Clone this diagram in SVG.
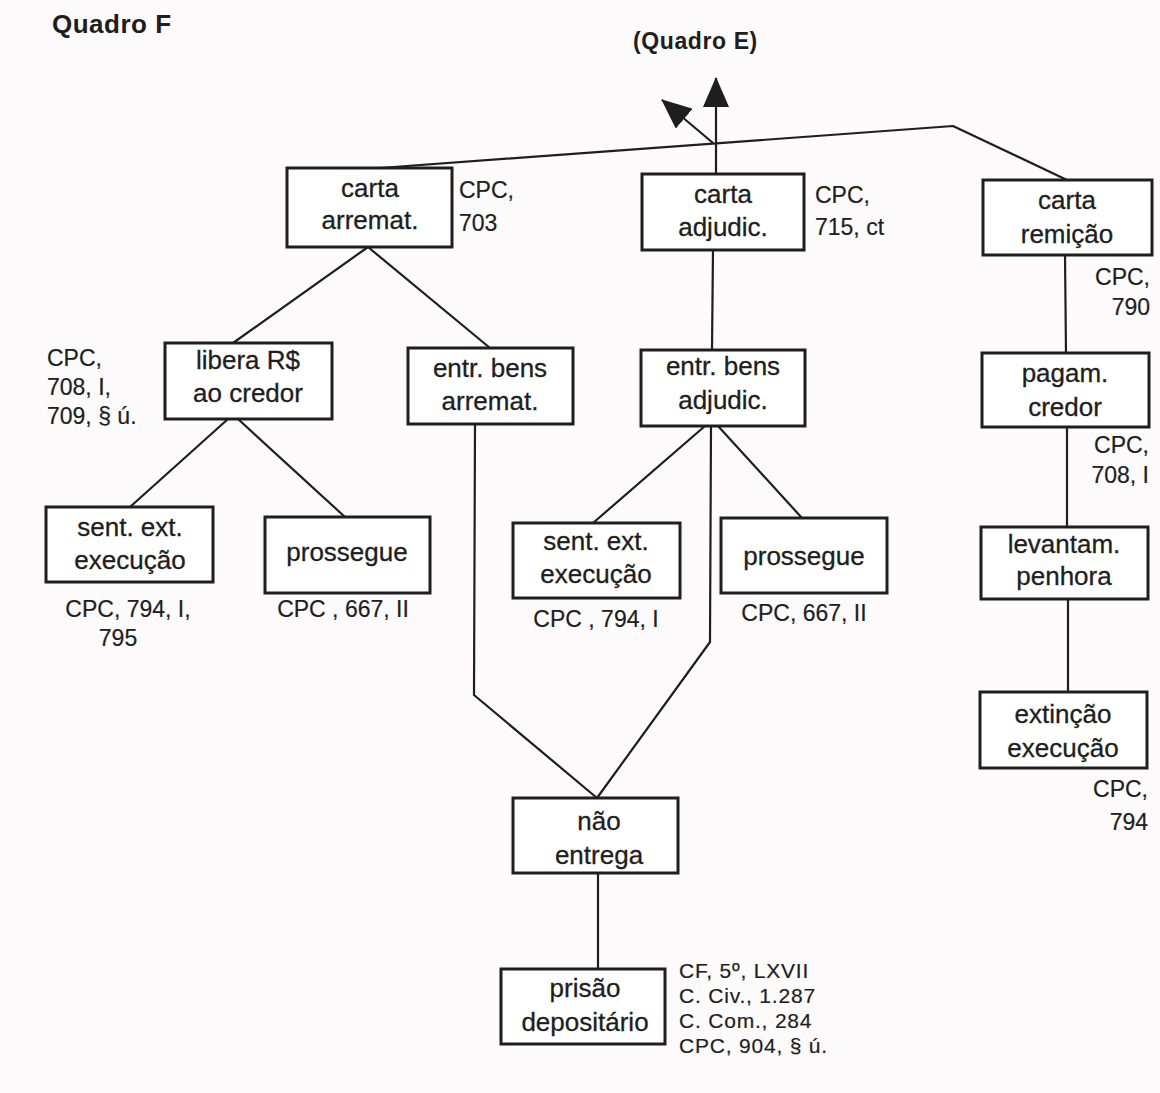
<svg xmlns="http://www.w3.org/2000/svg" width="1160" height="1093" viewBox="0 0 1160 1093">
<style>
.box{fill:#ffffff;stroke:#1e1e1e;stroke-width:3}
.bt{font-family:"Liberation Sans",Arial,sans-serif;font-size:26px;fill:#1e1e1e;stroke:#1e1e1e;stroke-width:0.3;text-anchor:middle}
.lb{font-family:"Liberation Sans",Arial,sans-serif;font-size:23px;fill:#1e1e1e;stroke:#1e1e1e;stroke-width:0.2}
.lbs{font-family:"Liberation Sans",Arial,sans-serif;font-size:21px;fill:#1e1e1e;stroke:#1e1e1e;stroke-width:0.2;letter-spacing:0.8px}
.ttl{font-family:"Liberation Sans",Arial,sans-serif;font-weight:bold;fill:#1e1e1e}
.c{fill:none;stroke:#1e1e1e;stroke-width:2.2;stroke-linejoin:round}
</style>
<defs>
<marker id="arr" markerUnits="userSpaceOnUse" markerWidth="30" markerHeight="26" viewBox="0 0 30 26" refX="29" refY="13" orient="auto">
<path d="M0,0 L30,13 L0,26 z" fill="#1e1e1e"/>
</marker>
</defs>
<rect x="0" y="0" width="1160" height="1093" fill="#fcfafa"/>

<text class="ttl" x="52" y="33" font-size="26" letter-spacing="0.5">Quadro F</text>
<text class="ttl" x="633" y="49" font-size="23" letter-spacing="0.6">(Quadro E)</text>

<g id="connectors">
<polyline class="c" points="380,168 953,126 1067,180"/>
<line class="c" x1="716" y1="174" x2="716" y2="78" marker-end="url(#arr)"/>
<line class="c" x1="713" y1="143" x2="662" y2="100" marker-end="url(#arr)"/>
<line class="c" x1="368" y1="247" x2="233" y2="343"/>
<line class="c" x1="368" y1="247" x2="490" y2="348"/>
<line class="c" x1="228" y1="419" x2="130" y2="507"/>
<line class="c" x1="238" y1="419" x2="345" y2="517"/>
<line class="c" x1="713" y1="250" x2="712" y2="350"/>
<line class="c" x1="705" y1="426" x2="593" y2="523"/>
<line class="c" x1="718" y1="426" x2="802" y2="518"/>
<polyline class="c" points="711,426 710,642 597,798"/>
<polyline class="c" points="475,424 474,695 597,798"/>
<line class="c" x1="598" y1="873" x2="598" y2="969"/>
<line class="c" x1="1065" y1="255" x2="1066" y2="353"/>
<line class="c" x1="1067" y1="427" x2="1067" y2="527"/>
<line class="c" x1="1068" y1="599" x2="1068" y2="692"/>
</g>

<g id="carta-arremat">
<rect class="box" x="287" y="168" width="165" height="79"/>
<text class="bt" x="370" y="197">carta</text>
<text class="bt" x="370" y="229">arremat.</text>
<text class="lb" x="459" y="198">CPC,</text>
<text class="lb" x="459" y="231">703</text>
</g>

<g id="carta-adjudic">
<rect class="box" x="642" y="174" width="162" height="76"/>
<text class="bt" x="723" y="203">carta</text>
<text class="bt" x="723" y="236">adjudic.</text>
<text class="lb" x="815" y="203">CPC,</text>
<text class="lb" x="815" y="235">715, ct</text>
</g>

<g id="carta-remicao">
<rect class="box" x="983" y="180" width="169" height="75"/>
<text class="bt" x="1067" y="209">carta</text>
<text class="bt" x="1067" y="243">remição</text>
<text class="lb" x="1150" y="285" text-anchor="end">CPC,</text>
<text class="lb" x="1150" y="315" text-anchor="end">790</text>
</g>

<g id="libera">
<rect class="box" x="165" y="343" width="167" height="76"/>
<text class="bt" x="248" y="369">libera R$</text>
<text class="bt" x="248" y="402">ao credor</text>
<text class="lb" x="47" y="366">CPC,</text>
<text class="lb" x="47" y="395">708,  I,</text>
<text class="lb" x="47" y="424">709, § ú.</text>
</g>

<g id="entr-bens-arremat">
<rect class="box" x="408" y="348" width="165" height="76"/>
<text class="bt" x="490" y="377">entr. bens</text>
<text class="bt" x="490" y="410">arremat.</text>
</g>

<g id="entr-bens-adjudic">
<rect class="box" x="641" y="350" width="164" height="76"/>
<text class="bt" x="723" y="375">entr. bens</text>
<text class="bt" x="723" y="409">adjudic.</text>
</g>

<g id="pagam-credor">
<rect class="box" x="982" y="353" width="167" height="74"/>
<text class="bt" x="1065" y="382">pagam.</text>
<text class="bt" x="1065" y="416">credor</text>
<text class="lb" x="1149" y="453" text-anchor="end">CPC,</text>
<text class="lb" x="1149" y="483" text-anchor="end">708, I</text>
</g>

<g id="sent-ext-left">
<rect class="box" x="46" y="507" width="167" height="75"/>
<text class="bt" x="130" y="536">sent. ext.</text>
<text class="bt" x="130" y="569">execução</text>
<text class="lb" x="128" y="617" text-anchor="middle">CPC, 794, I,</text>
<text class="lb" x="118" y="646" text-anchor="middle">795</text>
</g>

<g id="prossegue-left">
<rect class="box" x="265" y="517" width="165" height="76"/>
<text class="bt" x="347" y="561">prossegue</text>
<text class="lb" x="343" y="617" text-anchor="middle">CPC , 667, II</text>
</g>

<g id="sent-ext-mid">
<rect class="box" x="513" y="523" width="167" height="75"/>
<text class="bt" x="596" y="550">sent. ext.</text>
<text class="bt" x="596" y="583">execução</text>
<text class="lb" x="596" y="627" text-anchor="middle">CPC , 794, I</text>
</g>

<g id="prossegue-mid">
<rect class="box" x="721" y="518" width="166" height="75"/>
<text class="bt" x="804" y="565">prossegue</text>
<text class="lb" x="804" y="621" text-anchor="middle">CPC, 667, II</text>
</g>

<g id="levantam-penhora">
<rect class="box" x="981" y="527" width="167" height="72"/>
<text class="bt" x="1064" y="553">levantam.</text>
<text class="bt" x="1064" y="585">penhora</text>
</g>

<g id="extincao-execucao">
<rect class="box" x="980" y="692" width="167" height="76"/>
<text class="bt" x="1063" y="723">extinção</text>
<text class="bt" x="1063" y="757">execução</text>
<text class="lb" x="1148" y="797" text-anchor="end">CPC,</text>
<text class="lb" x="1148" y="830" text-anchor="end">794</text>
</g>

<g id="nao-entrega">
<rect class="box" x="513" y="798" width="165" height="75"/>
<text class="bt" x="599" y="830">não</text>
<text class="bt" x="599" y="864">entrega</text>
</g>

<g id="prisao-depositario">
<rect class="box" x="501" y="969" width="164" height="75"/>
<text class="bt" x="585" y="997">prisão</text>
<text class="bt" x="585" y="1031">depositário</text>
<text class="lbs" x="679" y="978">CF, 5º, LXVII</text>
<text class="lbs" x="679" y="1003">C. Civ., 1.287</text>
<text class="lbs" x="679" y="1028">C. Com., 284</text>
<text class="lbs" x="679" y="1053">CPC, 904, § ú.</text>
</g>
</svg>
